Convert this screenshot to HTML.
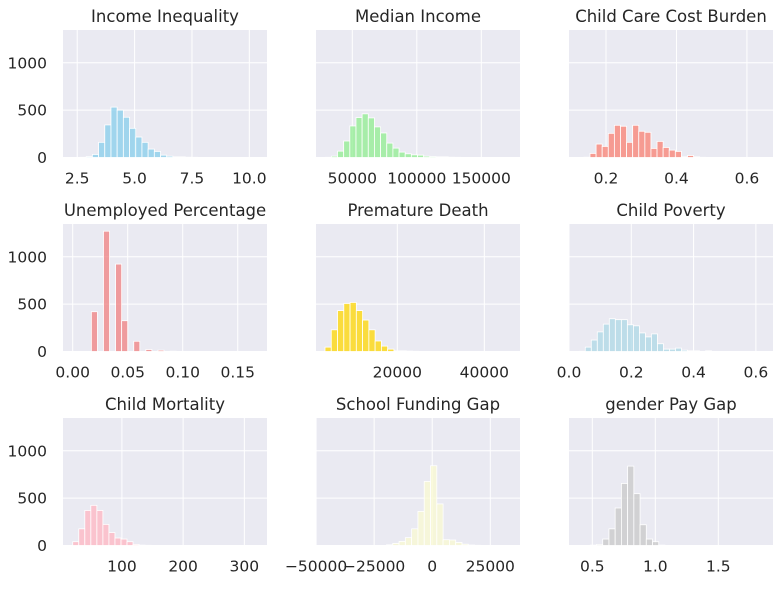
<!DOCTYPE html>
<html><head><meta charset="utf-8"><style>
body{margin:0;background:#fff;}
svg text{font-family:"DejaVu Sans","Liberation Sans",sans-serif;fill:#262626;}
</style></head><body>
<svg id="chart" width="784" height="584" xmlns="http://www.w3.org/2000/svg"></svg>
<script>
const titles=["Income Inequality","Median Income","Child Care Cost Burden","Unemployed Percentage","Premature Death","Child Poverty","Child Mortality","School Funding Gap","gender Pay Gap"];
const colors=["#87ceeb","#90ee90","#fa8072","#f08080","#ffd700","#add8e6","#ffb6c1","#fafad2","#c8c8c8"];
const binStart=[2.35,29000,0.12,0.0005,3380,0.033,19.7,-49510,0.385];
const binWidth=[0.27,4770,0.0173,0.0055,1440,0.0193,9.85,2710,0.0494];
const countsIncome=[0,2,10,32,160,344,532,500,425,308,216,160,89,64,25,14,7,7,3,2,1,1,0,0,0,0,0,0,0,1];
const countsMedian=[2,14,67,174,333,422,461,418,323,259,152,99,57,39,28,25,14,10,7,7,3,2,1,1,0,0,0,0,0,1];
const countsChildCare=[0,3,43,142,117,255,340,330,160,340,277,266,96,170,106,78,64,7,21,7,2,0,0,0,0,0,0,0,0,1];
const countsUnemployed=[0,0,0,420,0,1270,0,923,325,0,108,0,21,0,14,0,3,0,0,0,0,0,0,0,0,0,0,0,0,1];
const countsPremature=[46,229,432,507,518,432,332,229,111,57,25,7,7,4,2,1,0,0,0,0,0,0,0,0,0,0,0,0,0,1];
const countsPoverty=[2,46,121,207,289,346,336,336,282,271,196,154,186,82,25,25,36,14,7,7,0,7,0,0,0,0,0,0,0,1];
const countsMortality=[40,176,370,424,370,223,137,79,68,40,11,4,2,1,1,0,0,0,0,0,0,0,0,0,0,0,0,0,0,1];
const countsSchool=[1,0,0,0,0,0,0,0,0,0,0,7,22,43,83,176,360,676,842,439,61,58,32,14,5,2,1,0,0,1];
const countsGender=[0,0,4,11,68,176,396,655,838,547,219,68,40,4,0,0,0,0,0,0,0,0,0,0,0,0,0,0,0,1];
const allCounts=[countsIncome,countsMedian,countsChildCare,countsUnemployed,countsPremature,countsPoverty,countsMortality,countsSchool,countsGender];
const xTicks=[[2.5,5,7.5,10],[50000,100000,150000],[0.2,0.4,0.6],[0,0.05,0.1,0.15],[20000,40000],[0,0.2,0.4,0.6],[100,200,300],[-50000,-25000,0,25000],[0.5,1,1.5]];
const xTickLabels=[["2.5","5.0","7.5","10.0"],["50000","100000","150000"],["0.2","0.4","0.6"],["0.00","0.05","0.10","0.15"],["20000","40000"],["0.0","0.2","0.4","0.6"],["100","200","300"],["\u221250000","\u221225000","0","25000"],["0.5","1.0","1.5"]];
const xLimLo=[1.88,21860,0.095,-0.0088,1310,0.0,3.8,-50040,0.315];
const xLimHi=[10.77,180000,0.674,0.1766,48200,0.655,337,37800,1.934];
const yTicks=[0,500,1000];
const yMax=1346;

const NS="http://www.w3.org/2000/svg";
const svg=document.getElementById('chart');
function el(tag,attrs,parent){const e=document.createElementNS(NS,tag);for(const k in attrs)e.setAttribute(k,attrs[k]);(parent||svg).appendChild(e);return e;}
const colX=[63,316,569], rowY=[30,224,418], W=204, H=127.5;
for(let i=0;i<9;i++){
  const r=Math.floor(i/3), c=i%3, x0=colX[c], y0=rowY[r];
  const g=el('g',{});
  
  
  const xs=v=>x0+(v-xLimLo[i])/(xLimHi[i]-xLimLo[i])*W;
  const ys=v=>y0+H-v/yMax*H;
  const bg=el('rect',{x:x0,y:y0,width:W,height:H,fill:'#eaeaf2'},g);
  
  
  xTicks[i].forEach((t,k)=>{const px=xs(t);
    if(px>=x0-0.5&&px<=x0+W+0.5){const l=el('line',{x1:px,x2:px,y1:y0,y2:y0+H,stroke:'#fff','stroke-width':1},g);
      
      }
    const tx=el('text',{x:px,y:y0+H+26,'font-size':15.5,'text-anchor':'middle'},g);tx.textContent=xTickLabels[i][k];
    
    
  });
  yTicks.forEach(t=>{const py=ys(t);
    const l=el('line',{x1:x0,x2:x0+W,y1:py,y2:py,stroke:'#fff','stroke-width':1},g);
    
    
    if(c===0){const tx=el('text',{x:x0-16,y:py+5.5,'font-size':15.5,'text-anchor':'end'},g);tx.textContent=String(t);
      
      }
  });
  const counts=allCounts[i];
  counts.forEach((v,k)=>{
    const a=binStart[i]+k*binWidth[i], b=a+binWidth[i];
    const px1=xs(a), px2=xs(b), py=ys(v);
    const bar=el('rect',{x:px1,y:py,width:Math.max(0,px2-px1),height:Math.max(0,y0+H-py),fill:colors[i],'fill-opacity':0.75,stroke:'#fff','stroke-width':0.8},g);
    
    
  });
  const t=el('text',{x:x0+W/2,y:y0-8,'font-size':16.5,'text-anchor':'middle'},g);t.textContent=titles[i];
  
  
}
</script>
</body></html>
